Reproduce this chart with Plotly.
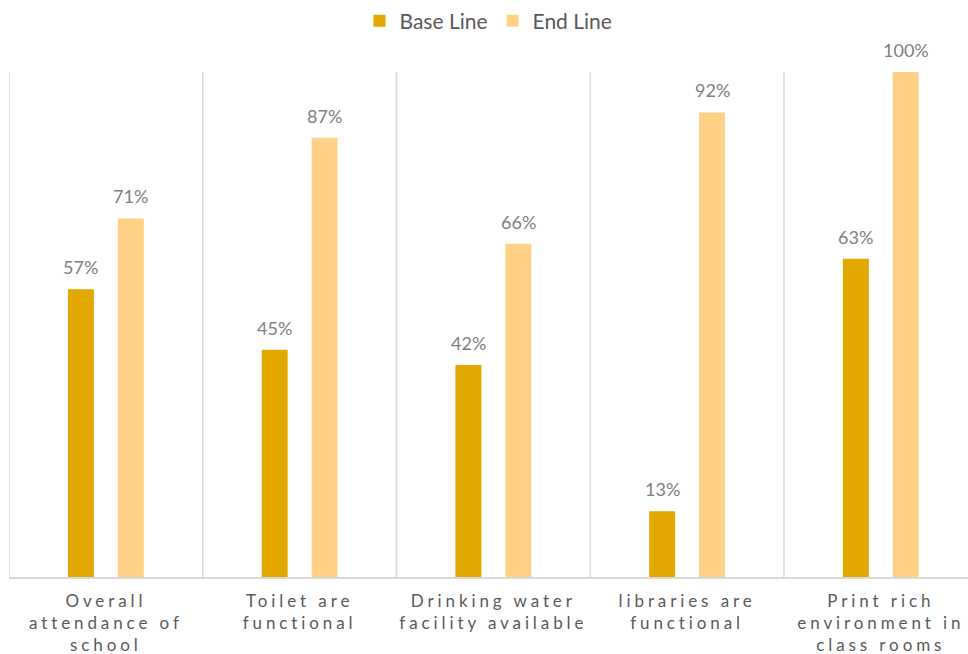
import plotly.graph_objects as go

categories = [
    "Overall<br>attendance of<br>school",
    "Toilet are<br>functional",
    "Drinking water<br>facility available",
    "libraries are<br>functional",
    "Print rich<br>environment in<br>class rooms",
]
base_line = [57, 45, 42, 13, 63]
end_line = [71, 87, 66, 92, 100]
series_names = ["Base Line", "End Line"]
colors = ["#E2A800", "#FFD186"]
label_shift = [-25, 25]

fig = go.Figure()
for name, vals, col, dx in zip(series_names, [base_line, end_line], colors, label_shift):
    fig.add_trace(go.Bar(
        x=categories, y=vals, name=name, marker=dict(color=col, line=dict(width=0)),
    ))
    for c, v in zip(categories, vals):
        fig.add_annotation(x=c, y=v, xref="x", yref="y", text=f"{v}%", showarrow=False,
                           xshift=dx, yshift=9, yanchor="bottom", xanchor="center",
                           font=dict(family="Lato", size=18, color="#7F7F7F"))

n = len(categories)
for i in range(n):
    fig.add_shape(type="line", xref="x", yref="y", x0=i - 0.5, x1=i - 0.5, y0=0, y1=100,
                  line=dict(color="#D9D9D9", width=1.5), layer="below")

fig.update_layout(
    width=968, height=654,
    margin=dict(l=9, r=0, t=72, b=77, autoexpand=False),
    paper_bgcolor="white", plot_bgcolor="white",
    barmode="group", bargap=0.485, bargroupgap=0.48,
    font=dict(family="Lato", color="#595959"),
    showlegend=True,
    legend=dict(orientation="h", x=0.5, xanchor="center", xref="paper",
                y=1.101, yanchor="middle", yref="paper",
                font=dict(family="Lato", size=21, color="#595959"),
                itemwidth=30, itemsizing="constant", traceorder="normal"),
    xaxis=dict(range=[-0.5, n - 0.55], showgrid=False, showline=True, linecolor="#D9D9D9",
               linewidth=1.5, ticks="", tickfont=dict(family="Lato", size=17, color="#595959"),
               fixedrange=True, tickangle=0, ticklabelstandoff=8),
    yaxis=dict(range=[0, 100], visible=False, fixedrange=True),
)

post = """
function ls(){document.querySelectorAll('.xtick text').forEach(function(t){t.style.letterSpacing='3.9px';});}
ls();
"""
fig.write_html("out.html", post_script=post)
